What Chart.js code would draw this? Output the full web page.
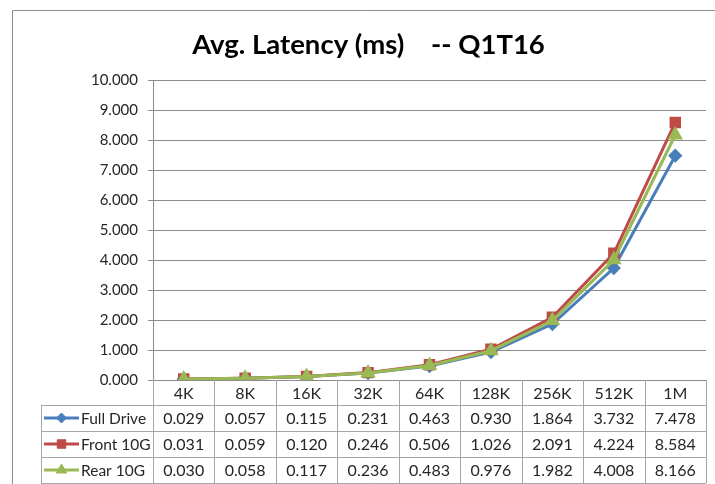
<!DOCTYPE html>
<html>
<head>
<meta charset="utf-8">
<title>Avg. Latency (ms) -- Q1T16</title>
<script src="https://cdn.jsdelivr.net/npm/chart.js"></script>
<style>
  html, body { margin: 0; padding: 0; background: #fff; }
  #wrap { width: 715px; height: 484px; }
</style>
</head>
<body>
<div id="wrap"><canvas id="latencyChart" width="715" height="484"></canvas></div>
<script>
// block sizes (x axis categories)
const blockSizes = ['4K', '8K', '16K', '32K', '64K', '128K', '256K', '512K', '1M'];

// avg latency in ms, per series
const fullDrive = [0.029, 0.057, 0.115, 0.231, 0.463, 0.930, 1.864, 3.732, 7.478];
const front10G  = [0.031, 0.059, 0.120, 0.246, 0.506, 1.026, 2.091, 4.224, 8.584];
const rear10G   = [0.030, 0.058, 0.117, 0.236, 0.483, 0.976, 1.982, 4.008, 8.166];

const seriesNames = ['Full Drive', 'Front 10G', 'Rear 10G'];

// y axis range
const yMin = 0;
const yMax = 10;
const yStep = 1;

const FONT = 'Lato, "Noto Sans", sans-serif';
const TEXT = '#262626';
const GRID = '#8c8c8c';
const TABLE_LINE = '#a6a6a6';

// draws the Excel style frame around the chart
const framePlugin = {
    id: 'frame',
    beforeDraw(chart) {
        const ctx = chart.ctx;
        ctx.save();
        ctx.fillStyle = '#fff';
        ctx.fillRect(0, 0, chart.width, chart.height);
        ctx.strokeStyle = GRID;
        ctx.lineWidth = 1;
        ctx.beginPath();
        ctx.moveTo(12.5, chart.height);
        ctx.lineTo(12.5, 10.5);
        ctx.lineTo(chart.width, 10.5);
        ctx.stroke();
        ctx.restore();
    }
};

// draws the data table under the plot, columns follow the x scale
const tablePlugin = {
    id: 'dataTable',
    afterDraw(chart) {
        const ctx = chart.ctx;
        const area = chart.chartArea;
        const x = chart.scales.x;
        const colW = x.width / blockSizes.length;
        const headH = 25;
        const rowH = 26;
        const top = area.bottom;
        const rowsTop = top + headH;
        const bottom = rowsTop + rowH * chart.data.datasets.length;
        const tableLeft = 41;

        ctx.save();
        ctx.strokeStyle = TABLE_LINE;
        ctx.lineWidth = 1;
        ctx.beginPath();
        // column lines
        for (let i = 0; i <= blockSizes.length; i++) {
            const cx = Math.round(area.left + i * colW) + 0.5;
            ctx.moveTo(cx, top);
            ctx.lineTo(cx, bottom);
        }
        ctx.moveTo(tableLeft + 0.5, rowsTop);
        ctx.lineTo(tableLeft + 0.5, bottom);
        // row lines
        for (let r = 0; r <= chart.data.datasets.length; r++) {
            const ry = Math.round(rowsTop + r * rowH) + 0.5;
            ctx.moveTo(tableLeft, ry);
            ctx.lineTo(area.right, ry);
        }
        ctx.stroke();

        ctx.fillStyle = TEXT;
        ctx.textBaseline = 'middle';
        ctx.textAlign = 'center';
        ctx.font = '16px ' + FONT;
        blockSizes.forEach((lab, i) => {
            ctx.fillText(lab, x.getPixelForValue(i), top + headH / 2 + 1);
        });

        chart.data.datasets.forEach((ds, r) => {
            const cy = rowsTop + r * rowH + rowH / 2 + 1;
            ctx.font = '16px ' + FONT;
            ds.data.forEach((v, i) => {
                ctx.fillStyle = TEXT;
                ctx.textAlign = 'center';
                ctx.fillText(v.toFixed(3), x.getPixelForValue(i), cy);
            });
            // legend key
            ctx.strokeStyle = ds.borderColor;
            ctx.lineWidth = 3;
            ctx.beginPath();
            ctx.moveTo(44, cy - 1);
            ctx.lineTo(79, cy - 1);
            ctx.stroke();
            ctx.fillStyle = ds.pointBackgroundColor;
            ctx.strokeStyle = ds.pointBorderColor;
            ctx.lineWidth = 1;
            Chart.helpers.drawPoint(ctx, {
                pointStyle: ds.pointStyle,
                radius: ds.pointRadius,
                rotation: 0,
                borderWidth: 1
            }, 61.5, cy - 1);
            ctx.fillStyle = TEXT;
            ctx.textAlign = 'left';
            ctx.font = '15.5px ' + FONT;
            ctx.fillText(ds.label, 81, cy);
        });
        ctx.restore();
    }
};

const data = {
    labels: blockSizes,
    datasets: [{
        label: seriesNames[0],
        data: fullDrive,
        borderColor: '#4a7ebb',
        backgroundColor: '#4a7ebb',
        pointBackgroundColor: '#4a7ebb',
        pointBorderColor: '#4a7ebb',
        pointStyle: 'rectRot',
        pointRadius: 5,
        borderWidth: 3,
        order: 3
    }, {
        label: seriesNames[1],
        data: front10G,
        borderColor: '#be4b48',
        backgroundColor: '#be4b48',
        pointBackgroundColor: '#be4b48',
        pointBorderColor: '#be4b48',
        pointStyle: 'rect',
        pointRadius: 6,
        borderWidth: 3,
        order: 2
    }, {
        label: seriesNames[2],
        data: rear10G,
        borderColor: '#98b954',
        backgroundColor: '#98b954',
        pointBackgroundColor: '#98b954',
        pointBorderColor: '#98b954',
        pointStyle: 'triangle',
        pointRadius: 6,
        borderWidth: 3,
        order: 1
    }]
};

const config = {
    type: 'line',
    data: data,
    plugins: [framePlugin, tablePlugin],
    options: {
        responsive: false,
        animation: false,
        layout: {
            padding: { left: 30, right: 8, top: 0, bottom: 0 }
        },
        plugins: {
            legend: { display: false },
            tooltip: { enabled: false },
            title: {
                display: true,
                text: 'Avg. Latency (ms)    -- Q1T16',
                color: '#000',
                font: { family: FONT, size: 27.5, weight: 'bold', lineHeight: 1.2 },
                padding: { top: 29, bottom: 18 }
            }
        },
        scales: {
            x: {
                offset: true,
                grid: { display: false, drawTicks: false },
                border: { display: false },
                ticks: { display: false },
                afterFit: function(scale) { scale.height = 104; }
            },
            y: {
                min: yMin,
                max: yMax,
                grid: { color: GRID, tickLength: 5 },
                border: { color: GRID },
                ticks: {
                    stepSize: yStep,
                    color: TEXT,
                    padding: 10,
                    font: { family: FONT, size: 15 },
                    callback: v => v.toFixed(3)
                },
                afterFit: function(scale) { scale.width = 123; }
            }
        }
    }
};

const ctx = document.getElementById('latencyChart').getContext('2d');
const myChart = new Chart(ctx, config);
</script>
</body>
</html>
